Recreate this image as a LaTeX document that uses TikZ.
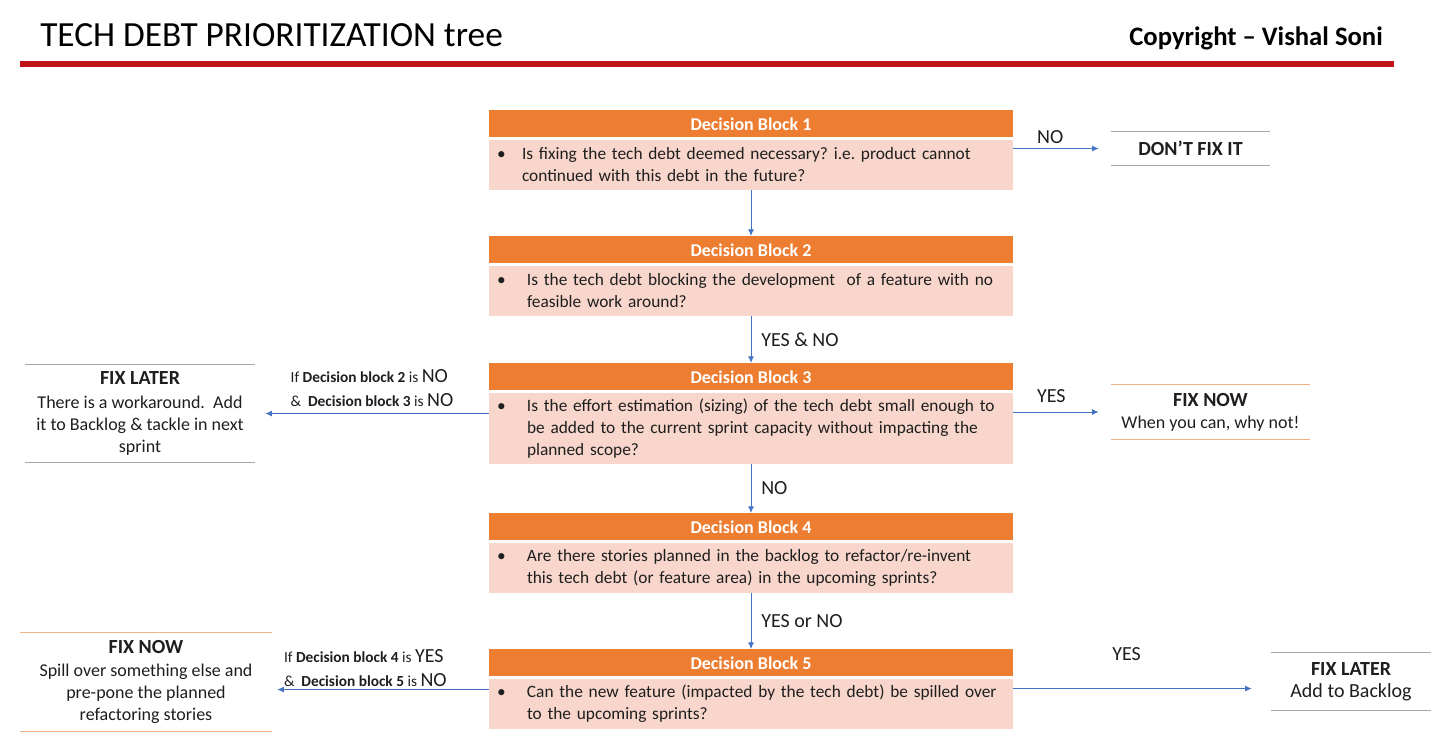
\documentclass[tikz,border=0pt]{standalone}
\usepackage{fontspec}
\setmainfont{Carlito}
\usepackage{tikz}
\usetikzlibrary{arrows.meta,positioning}
\definecolor{blkorange}{HTML}{ED7D31}
\definecolor{blkpink}{HTML}{F8D6CB}
\definecolor{rulegray}{HTML}{A6A6A6}
\definecolor{ruleorange}{HTML}{F4B183}
\definecolor{arrowblue}{HTML}{4472C4}
\definecolor{titlered}{HTML}{C0141A}
\definecolor{txt}{HTML}{1E1E1E}
\frenchspacing

\begin{document}
\begin{tikzpicture}[x=0.75pt,y=-0.75pt,>=Latex,font=\fontsize{13}{16.5}\selectfont,text=txt]

\tikzset{
hdr/.style={
    fill=blkorange,
    text=white,
    font=\fontsize{13.5}{16.5}\selectfont\bfseries,
    minimum width=393pt,
    minimum height=20.25pt,
    inner sep=0pt,
    anchor=north
},
body/.style={
    fill=blkpink,
    minimum width=393pt,
    text width=381pt,
    inner xsep=6pt,
    inner ysep=0pt,
    minimum height=37.5pt,
    align=left
},
outc/.style={inner sep=0pt,align=center,font=\fontsize{13.5}{16.5}\selectfont},
grayrule/.style={draw=rulegray,line width=1.1pt},
orgrule/.style={draw=ruleorange,line width=1.1pt},
a/.style={color=arrowblue,line width=0.75pt,-{Latex[length=5pt,width=4.5pt]}},
lbl/.style={font=\fontsize{15}{16.5}\selectfont,text=txt},
cond/.style={align=left,inner sep=0pt,font=\fontsize{11.5}{18}\selectfont,text=txt}
}
\newcommand{\bigword}[1]{{\fontsize{15}{18}\selectfont #1}}
\newcommand{\fixttl}[1]{{\fontsize{15}{16.5}\selectfont\bfseries #1}}
\newcommand{\bul}[2][22.5pt]{\makebox[#1][l]{\textbullet}\parbox[t]{360pt}{\raggedright #2}}

\useasboundingbox (0,0) rectangle (1444,744);

% heading
\node[anchor=base west,inner sep=0pt,font=\fontsize{26.5}{30}\selectfont,text=black] (title) at (40,46) {TECH DEBT PRIORITIZATION tree};
\node[anchor=base east,inner sep=0pt,font=\fontsize{20}{24}\selectfont\bfseries,text=black] (owner) at (1383,45) {Copyright – Vishal Soni};
\draw[titlered,line width=4.5pt] (20,63.5) -- (1394,63.5);

% decision blocks
\node[hdr] (hdr1) at (751,110) {Decision Block 1};
\node[body,below=1.5pt of hdr1] (body1) {\bul[18.75pt]{Is fixing the tech debt deemed necessary? i.e. product cannot\\continued with this debt in the future?}};

\node[hdr] (hdr2) at (751,236) {Decision Block 2};
\node[body,below=1.5pt of hdr2] (body2) {\bul{Is the tech debt blocking the development\ \ of a feature with no\\feasible work around?}};

\node[hdr] (hdr3) at (751,363) {Decision Block 3};
\node[body,below=1.5pt of hdr3,minimum height=53.25pt] (body3) {\bul{Is the effort estimation (sizing) of the tech debt small enough to\\be added to the current sprint capacity without impacting the\\planned scope?}};

\node[hdr] (hdr4) at (751,513) {Decision Block 4};
\node[body,below=1.5pt of hdr4] (body4) {\bul{Are there stories planned in the backlog to refactor/re-invent\\this tech debt (or feature area) in the upcoming sprints?}};

\node[hdr] (hdr5) at (751,649) {Decision Block 5};
\node[body,below=1.5pt of hdr5] (body5) {\bul{Can the new feature (impacted by the tech debt) be spilled over\\to the upcoming sprints?}};

% outcomes
\node[outc,minimum width=119.25pt,minimum height=24.75pt] (dontfix) at (1190.5,148.5) {\fixttl{DON’T FIX IT}};
\node[outc,minimum width=149.25pt,minimum height=40.5pt] (fixnowr) at (1210.5,412) {\fixttl{FIX NOW}\\When you can, why not!};
\node[outc,minimum width=172.5pt,minimum height=72.75pt] (fixlaterl) at (140,413.5) {\fixttl{FIX LATER}\\[1pt]There is a workaround.\ \ Add\\it to Backlog \& tackle in next\\sprint};
\node[outc,minimum width=189pt,minimum height=73.5pt] (fixnowl) at (146,682) {\fixttl{FIX NOW}\\[1pt]Spill over something else and\\pre-pone the planned\\refactoring stories};
\node[outc,minimum width=120pt,minimum height=42.75pt,font=\fontsize{15}{16.5}\selectfont] (fixlaterr) at (1351,681.5) {\fixttl{FIX LATER}\\Add to Backlog};

\draw[grayrule] (dontfix.north west) -- (dontfix.north east) (dontfix.south west) -- (dontfix.south east);
\draw[orgrule] (fixnowr.north west) -- (fixnowr.north east) (fixnowr.south west) -- (fixnowr.south east);
\draw[grayrule] (fixlaterl.north west) -- (fixlaterl.north east) (fixlaterl.south west) -- (fixlaterl.south east);
\draw[orgrule] (fixnowl.north west) -- (fixnowl.north east) (fixnowl.south west) -- (fixnowl.south east);
\draw[grayrule] (fixlaterr.north west) -- (fixlaterr.north east) (fixlaterr.south west) -- (fixlaterr.south east);

% flow down
\draw[a] (body1) -- (hdr2);
\draw[a] (body2) -- (hdr3) node[midway,right=4pt,lbl] {YES \& NO};
\draw[a] (body3) -- (hdr4) node[midway,right=4pt,lbl] {NO};
\draw[a] (body4) -- (hdr5) node[midway,right=4pt,lbl] {YES or NO};

% side exits
\coordinate (b5l) at ([yshift=-8.25pt]body5.north west);
\coordinate (b5r) at ([yshift=-7.5pt]body5.north east);

\draw[a,shorten >=9pt] (body1.east |- dontfix) -- (dontfix.west) node[pos=0.38,above,lbl] {NO};
\draw[a,shorten >=9pt] (body3.east |- fixnowr) -- (fixnowr.west) node[pos=0.39,above=3pt,lbl] {YES};
\draw[a,shorten >=7.5pt] (body3.west |- fixlaterl) -- (fixlaterl.east) node[midway,above=5pt,cond] {If \textbf{Decision block 2} is \bigword{NO}\\\&\ \ \textbf{Decision block 3} is \bigword{NO}};
\draw[a,shorten >=3.75pt] (b5l) -- (b5l -| fixnowl.east) node[pos=0.57,above=2pt,cond] {If \textbf{Decision block 4} is \bigword{YES}\\\&\ \ \textbf{Decision block 5} is \bigword{NO}};
\draw[a,shorten >=14.25pt] (b5r) -- (b5r -| fixlaterr.west) node[pos=0.44,above=17pt,lbl] {YES};

\end{tikzpicture}
\end{document}
